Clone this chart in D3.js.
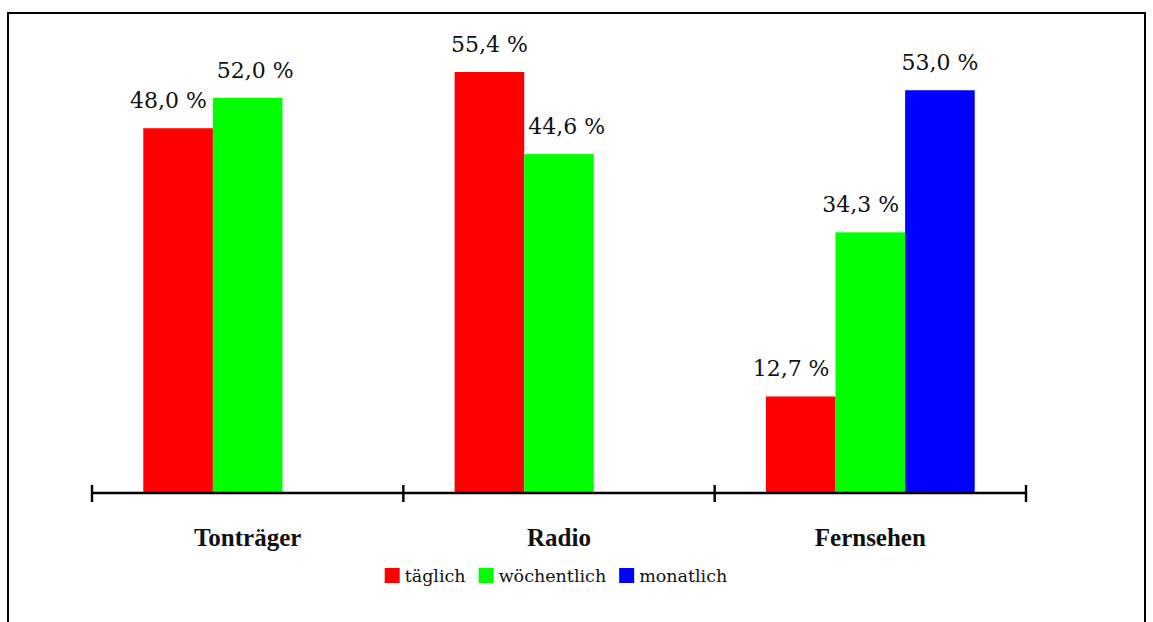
<!DOCTYPE html>
<html>
<head>
<meta charset="utf-8">
<script src="https://cdn.jsdelivr.net/npm/d3@7"></script>
<style>
  html, body { margin: 0; padding: 0; background: #fff; }
  svg { display: block; }
</style>
</head>
<body>
<svg id="chart" width="1153" height="622"></svg>
<script>
// Media usage frequency per medium
const categories = ["Tonträger", "Radio", "Fernsehen"];
const series = ["täglich", "wöchentlich", "monatlich"];
const seriesColors = ["#ff0000", "#00ff00", "#0000ff"];
const taeglich    = [48.0, 55.4, 12.7];
const woechentlich = [52.0, 44.6, 34.3];
const monatlich   = [null, null, 53.0];

const valuesBySeries = [taeglich, woechentlich, monatlich];

const svg = d3.select("#chart");
const W = 1153, H = 622;

// outer frame
svg.append("path")
  .attr("d", `M8,${H + 2} L8,13 L1145,13 L1145,${H + 2}`)
  .attr("fill", "none")
  .attr("stroke", "#000")
  .attr("stroke-width", 2);

const axisY = 493;
const x0 = d3.scaleBand().domain(categories).range([92, 1026]).padding(0);
const x1 = d3.scaleBand().domain(series).range([0, x0.bandwidth()])
  .paddingInner(0).paddingOuter(0.737);
const allVals = valuesBySeries.flat().filter(v => v != null);
const y = d3.scaleLinear().domain([0, d3.max(allVals)]).range([axisY, 72]);

const color = d3.scaleOrdinal().domain(series).range(seriesColors);
const fmt = d3.formatLocale({decimal: ",", thousands: ".", grouping: [3], currency: ["", " €"]}).format(".1f");

// flattened bar records
const bars = [];
categories.forEach((c, ci) => {
  series.forEach((s, si) => {
    const v = valuesBySeries[si][ci];
    if (v != null) bars.push({cat: c, ser: s, si, value: v});
  });
});

const g = svg.append("g");
g.selectAll("rect.bar").data(bars).join("rect")
  .attr("class", "bar")
  .attr("x", d => x0(d.cat) + x1(d.ser))
  .attr("y", d => y(d.value))
  .attr("width", x1.bandwidth())
  .attr("height", d => axisY - y(d.value))
  .attr("fill", d => color(d.ser));

// value labels, nudged sideways when they would run into a taller neighbouring bar
const labelOffset = 20;
const labels = g.selectAll("text.val").data(bars).join("text")
  .attr("class", "val")
  .attr("font-family", "'DejaVu Serif', serif")
  .attr("font-size", 22)
  .attr("fill", "#111")
  .attr("text-anchor", "start")
  .attr("y", d => y(d.value) - labelOffset)
  .text(d => fmt(d.value) + " %");

labels.each(function(d) {
  const w = this.getComputedTextLength();
  const bx = x0(d.cat) + x1(d.ser);
  const bw = x1.bandwidth();
  let left = bx + bw / 2 - w / 2;
  const baseline = y(d.value) - labelOffset;
  const neighbours = bars.filter(b => b.cat === d.cat && Math.abs(b.si - d.si) === 1);
  neighbours.forEach(n => {
    const nx = x0(n.cat) + x1(n.ser);
    if (y(n.value) < baseline + 5) {
      if (n.si > d.si && left + w > nx - 6) left = nx - 6 - w;
      if (n.si < d.si && left < nx + bw + 4) left = nx + bw + 4;
    }
  });
  d.lx = left; d.lw = w; d.ly = baseline;
});

// keep neighbouring labels that sit at similar heights apart
labels.each(function(d) {
  const prev = bars.find(b => b.cat === d.cat && b.si === d.si - 1);
  if (prev && Math.abs(prev.ly - d.ly) < 32 && d.lx < prev.lx + prev.lw + 10) {
    d.lx = prev.lx + prev.lw + 10;
  }
  d3.select(this).attr("x", d.lx);
});

// category axis
g.append("line")
  .attr("x1", 92).attr("x2", 1026)
  .attr("y1", axisY).attr("y2", axisY)
  .attr("stroke", "#000").attr("stroke-width", 2.4);

const tickPos = categories.map(c => x0(c)).concat([x0(categories[categories.length - 1]) + x0.bandwidth()]);
g.selectAll("line.tick").data(tickPos).join("line")
  .attr("class", "tick")
  .attr("x1", d => d).attr("x2", d => d)
  .attr("y1", axisY - 8).attr("y2", axisY + 9)
  .attr("stroke", "#000").attr("stroke-width", 2.4);

g.selectAll("text.cat").data(categories).join("text")
  .attr("class", "cat")
  .attr("x", d => x0(d) + x0.bandwidth() / 2)
  .attr("y", 546)
  .attr("text-anchor", "middle")
  .attr("font-family", "'Liberation Serif', serif")
  .attr("font-weight", "bold")
  .attr("font-size", 25)
  .attr("fill", "#111")
  .text(d => d);

// legend
const legend = svg.append("g");
const items = legend.selectAll("g.item").data(series).join("g").attr("class", "item");
items.append("rect")
  .attr("width", 15).attr("height", 15)
  .attr("y", 568)
  .attr("fill", d => color(d));
items.append("text")
  .attr("x", 20).attr("y", 582)
  .attr("font-family", "'DejaVu Serif', serif")
  .attr("font-size", 17.5)
  .attr("fill", "#111")
  .text(d => d);

let cursor = 0;
const offsets = [];
items.each(function() {
  const tw = d3.select(this).select("text").node().getComputedTextLength();
  offsets.push(cursor);
  cursor += 20 + tw + 13;
});
const total = cursor - 13;
const start = (x0.range()[0] + x0.range()[1]) / 2 - total / 2 - 3;
items.attr("transform", (d, i) => `translate(${start + offsets[i]},0)`);
</script>
</body>
</html>
